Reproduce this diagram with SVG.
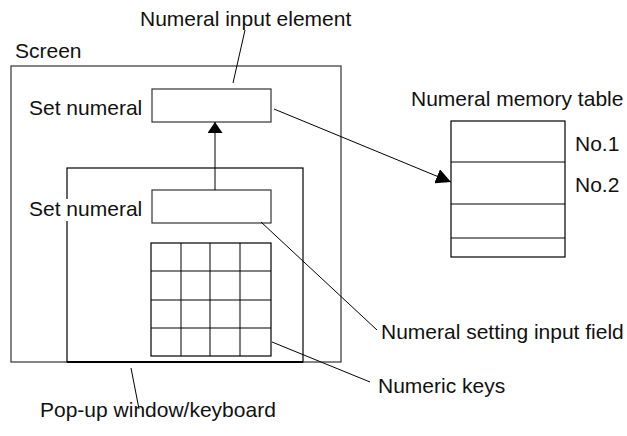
<svg xmlns="http://www.w3.org/2000/svg" width="627" height="436" viewBox="0 0 627 436">
<style>
text{font-family:"Liberation Sans",Arial,sans-serif;font-size:21px;fill:#111}
.box{fill:none;stroke:#333;stroke-width:1.2}
.blk{fill:none;stroke:#000;stroke-width:1.2}
.ln{fill:none;stroke:#000;stroke-width:1}
</style>
<defs>
<marker id="ah" viewBox="0 0 10 10" refX="10" refY="5" markerWidth="11" markerHeight="15" preserveAspectRatio="none" markerUnits="userSpaceOnUse" orient="auto">
<path d="M0,0 L10,5 L0,10 z" fill="#000"/>
</marker>
<marker id="ah2" viewBox="0 0 10 10" refX="10" refY="5" markerWidth="15" markerHeight="15" preserveAspectRatio="none" markerUnits="userSpaceOnUse" orient="auto">
<path d="M0,0 L10,5 L0,10 z" fill="#000"/>
</marker>
</defs>
<rect width="627" height="436" fill="#fff"/>
<g id="screen">
<rect class="box" x="11" y="66" width="330" height="296"/>
<text x="15" y="58">Screen</text>
</g>
<g id="numeral-input-element">
<rect class="box" x="152" y="89" width="119" height="33"/>
<text x="29" y="115">Set numeral</text>
<text x="140" y="26">Numeral input element</text>
</g>
<g id="popup-window">
<rect class="blk" x="67" y="168" width="236" height="194"/>
<line x1="67" y1="362" x2="303" y2="362" stroke="#000" stroke-width="2"/>
<rect x="26" y="199" width="118" height="22" fill="#fff"/>
<text x="29" y="216">Set numeral</text>
<text x="40" y="417">Pop-up window/keyboard</text>
</g>
<g id="setting-input-field">
<rect class="box" x="152" y="190" width="119" height="33"/>
<text x="381" y="339">Numeral setting input field</text>
</g>
<g id="numeric-keys">
<rect class="blk" x="151" y="243" width="120" height="113"/>
<path class="ln" d="M181,243V356M210,243V356M240,243V356M151,271H271M151,300H271M151,328H271"/>
<text x="378" y="393">Numeric keys</text>
</g>
<g id="memory-table">
<rect class="blk" x="451" y="121" width="114" height="136"/>
<path class="ln" d="M451,162H565M451,204H565M451,238H565"/>
<text x="411" y="106">Numeral memory table</text>
<text x="575" y="151">No.1</text>
<text x="575" y="192">No.2</text>
</g>
<g id="connectors">
<line class="ln" x1="215" y1="190" x2="215" y2="122" marker-end="url(#ah)"/>
<line class="ln" x1="274" y1="109" x2="451" y2="182" marker-end="url(#ah2)"/>
<line class="ln" x1="245" y1="30" x2="233" y2="83"/>
<line class="ln" x1="261" y1="222" x2="377" y2="330"/>
<line class="ln" x1="272" y1="342" x2="370" y2="382"/>
<line class="ln" x1="131" y1="368" x2="139" y2="409"/>
</g>
</svg>
